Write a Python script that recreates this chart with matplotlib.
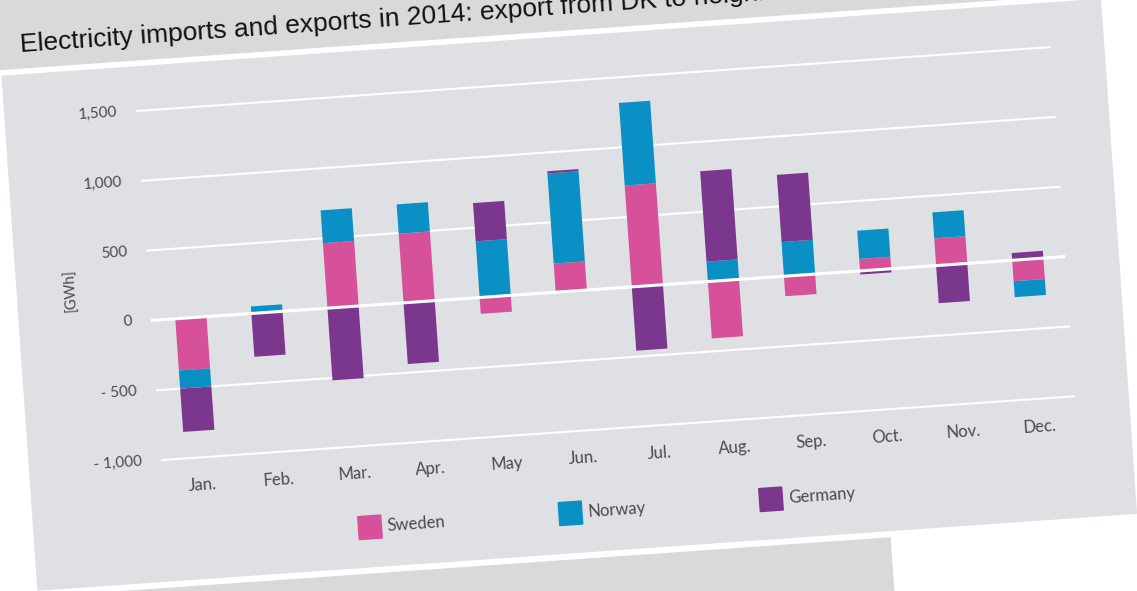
import numpy as np
import matplotlib.pyplot as plt
from matplotlib.patches import Rectangle
from matplotlib.transforms import Affine2D

# Monthly electricity exchange, GWh (positive = export from DK)
months = ["Jan.", "Feb.", "Mar.", "Apr.", "May", "Jun.",
          "Jul.", "Aug.", "Sep.", "Oct.", "Nov.", "Dec."]
sweden = [-370, 0, 465, 495, -117, 205, 726, -407, -143, 86, 195, -150]
norway = [-130, 50, 235, 210, 402, 645, 591, 143, 245, 202, 186, -114]
germany = [-310, -310, -517, -438, 274, 16, -457, 647, 481, -26, -269, 52]
series_names = ["Sweden", "Norway", "Germany"]

yticks = [-1000, -500, 0, 500, 1000, 1500]
ytick_labels = ["- 1,000", "- 500", "0", "500", "1,000", "1,500"]
title = "Electricity imports and exports in 2014: export from DK to neighbouring countries"

colors = ["#d6509a", "#0a90c4", "#7a378d"]
panel_col = "#dfe0e4"
banner_col = "#d9d9d9"
text_col = "#4a4a4a"

W, H = 1137, 591
fig = plt.figure(figsize=(W / 100, H / 100), dpi=100)

# the whole slide is tilted; everything is laid out flat in pixels and rotated
TILT = 4.0
ox, oy = 151, 270.5          # left end of the zero line (pixels)
rot = Affine2D().rotate_deg_around(ox, oy, TILT)

px_month = 76.27             # pixels per month step
px_gwh = 0.14                # pixels per GWh
x0, x1 = -0.524, 11.494
ax = fig.add_axes([ox / W, (oy - 1000 * px_gwh) / H,
                   (x1 - x0) * px_month / W, 2500 * px_gwh / H])
ax.set_xlim(x0, x1)
ax.set_ylim(-1000, 1500)
ax.axis("off")
ax.patch.set_visible(False)
T = ax.transData + rot

# background panel and title banners
fig.add_artist(Rectangle((19.5, 9.5), 1101, 515, color=panel_col,
                         transform=rot, zorder=-3))
fig.add_artist(Rectangle((-300, oy + 261), 1700, 400, color=banner_col,
                         transform=rot, zorder=-3))
fig.add_artist(Rectangle((-300, -300), 1173, 302, color=banner_col,
                         transform=rot, zorder=-3))
fig.text(40, 547.4, title, transform=rot, rotation=TILT, rotation_mode="anchor",
         ha="left", va="baseline", fontsize=19, family="Liberation Sans",
         color="#111111")

plt.rcParams["font.family"] = ["Lato", "DejaVu Sans"]

# gridlines (zero line sits on top of the bars)
for yt in yticks:
    ax.plot([x0, x1], [yt, yt], color="white", lw=2.2 if yt == 0 else 1.5,
            transform=T, clip_on=False, zorder=3 if yt == 0 else 1,
            solid_capstyle="butt")
for yt, lab in zip(yticks, ytick_labels):
    ax.text(x0 - 19 / px_month, yt, lab, transform=T, rotation=TILT,
            rotation_mode="anchor", ha="right", va="center", fontsize=11,
            color=text_col)

# stacked bars, positives up from zero and negatives down
x = np.arange(len(months))
pos_base = np.zeros(len(months))
neg_base = np.zeros(len(months))
for vals, col in zip([sweden, norway, germany], colors):
    vals = np.array(vals, dtype=float)
    bottom = np.where(vals >= 0, pos_base, neg_base)
    bars = ax.bar(x, vals, 0.41, bottom=bottom, color=col, zorder=2,
                  clip_on=False)
    for b in bars:
        b.set_transform(T)
    pos_base += np.clip(vals, 0, None)
    neg_base += np.clip(vals, None, 0)

for i, m in enumerate(months):
    ax.text(i, -1000 - 27.6 / px_gwh, m, transform=T, rotation=TILT,
            rotation_mode="anchor", ha="center", va="center", fontsize=12,
            color=text_col)

fig.text(73.3, 306.5, "[GWh]", transform=rot, rotation=90 + TILT,
         rotation_mode="anchor", ha="center", va="center", fontsize=10.5,
         color=text_col)

# legend
for k, (name, col) in enumerate(zip(series_names, colors)):
    cx, cy = ox + 204 + 201 * k, oy - 221.6
    fig.add_artist(Rectangle((cx - 11.5, cy - 11.5), 23, 23, color=col,
                             transform=rot, zorder=2))
    fig.text(cx + 17.5, cy, name, transform=rot, rotation=TILT,
             rotation_mode="anchor", ha="left", va="center", fontsize=12,
             color=text_col)

fig.savefig("out.png", dpi=100, facecolor="white")
